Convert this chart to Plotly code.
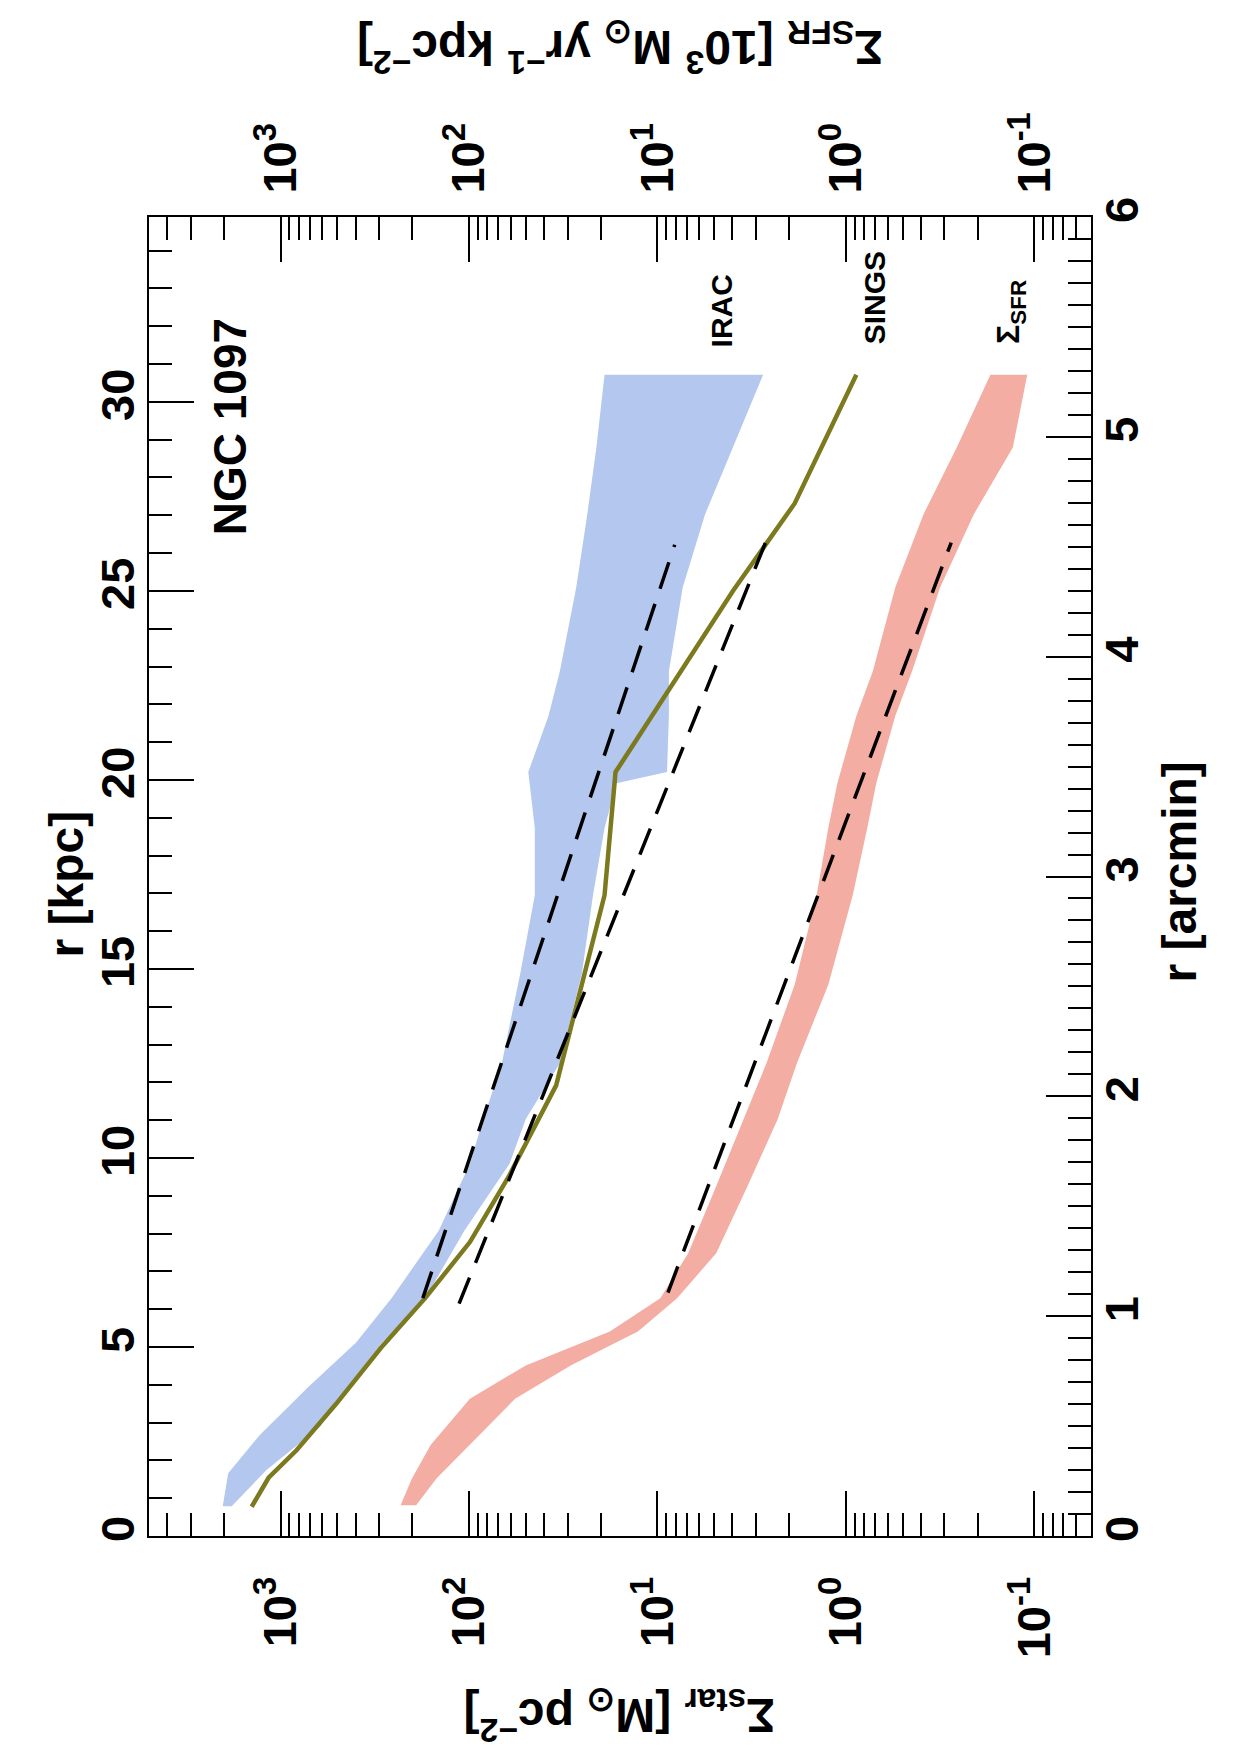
import math
import plotly.graph_objects as go

# ---------------- data (r in arcmin, surface densities) ----------------
KPC_PER_ARCMIN = 5.815

# IRAC stellar surface density band (upper and lower envelopes)
irac_hi_r = [0.135, 0.285, 0.46, 0.675, 0.879, 1.082, 1.388, 1.693, 1.897, 2.151,
             2.559, 2.915, 3.221, 3.475, 3.73, 3.933, 4.315, 4.646, 4.952, 5.282]
irac_hi = [2030, 1900, 1290, 718, 399, 258, 145, 99, 84, 67,
           53.5, 44.8, 44.8, 48.5, 37.9, 33, 27, 23.6, 21.1, 19.1]
irac_lo_r = [0.135, 0.30, 0.496, 0.675, 0.879, 1.082, 1.388, 1.693, 1.897, 2.151,
             2.559, 2.915, 3.221, 3.424, 3.475, 3.73, 3.933, 4.315, 4.646, 4.952, 5.282]
irac_lo = [1820, 1190, 620, 445, 290, 171, 106, 61, 50, 33,
           25.2, 22, 19.1, 16.5, 8.9, 8.7, 8.7, 7.35, 5.6, 3.97, 2.75]

# SINGS profile
sings_r = [0.133, 0.265, 0.39, 0.599, 0.854, 1.082, 1.337, 1.642, 2.05, 2.559,
           2.915, 3.475, 4.30, 4.697, 5.282]
sings = [1426, 1159, 824, 510, 295, 171, 99, 61, 34.5, 24.5,
         19.1, 16.7, 3.97, 1.87, 0.88]

# SFR surface density band
sfr_r = [0.14, 0.262, 0.414, 0.624, 0.776, 0.879, 0.93, 1.082, 1.286, 1.591, 1.897,
         2.151, 2.508, 2.915, 3.221, 3.424, 3.73, 3.933, 4.315, 4.646, 4.952, 5.282]
sfr_hi = [231, 201, 160, 99, 50, 25.2, 17.9, 9.66, 6.87, 4.88, 3.47,
          2.64, 1.87, 1.43, 1.24, 1.11, 0.88, 0.72, 0.547, 0.388, 0.258, 0.171]
sfr_lo = [191, 149, 99, 57, 28.9, 16.7, 12.7, 7.87, 4.88, 3.33, 2.30,
          1.82, 1.24, 0.92, 0.77, 0.69, 0.547, 0.446, 0.316, 0.21, 0.13, 0.109]

# exponential fits (dashed)
irac_fit_r = [1.082, 4.509]
irac_fit = [176, 8.1]
sings_fit_r = [1.057, 4.519]
sings_fit = [113, 2.67]
sfr_fit_r = [1.107, 4.519]
sfr_fit = [8.8, 0.276]

# axes
sig_range = [5000, 0.05]
sig_major = [1000, 100, 10, 1, 0.1]
sig_major_text = ["10<sup>3</sup>", "10<sup>2</sup>", "10<sup>1</sup>", "10<sup>0</sup>", "10<sup>-1</sup>"]
sig_minor = [k * 10 ** e for e in range(-2, 4) for k in range(2, 10)]
arcmin_range = [0, 6]

# ---------------- styling ----------------
FONT = "Liberation Sans, Arial, Helvetica, sans-serif"
BLUE = "rgb(179,199,239)"
SALMON = "rgb(243,173,162)"
OLIVE = "rgb(124,121,30)"
TICKFONT = dict(family=FONT, size=47, color="black", weight="bold")

fig = go.Figure()

fig.add_trace(go.Scatter(
    x=irac_hi + irac_lo[::-1], y=irac_hi_r + irac_lo_r[::-1],
    fill="toself", fillcolor=BLUE, mode="lines", line=dict(width=0, color=BLUE),
    hoverinfo="skip", showlegend=False))
fig.add_trace(go.Scatter(
    x=sfr_hi + sfr_lo[::-1], y=sfr_r + sfr_r[::-1],
    fill="toself", fillcolor=SALMON, mode="lines", line=dict(width=0, color=SALMON),
    hoverinfo="skip", showlegend=False))
fig.add_trace(go.Scatter(
    x=sings, y=sings_r, mode="lines", line=dict(color=OLIVE, width=4.5),
    hoverinfo="skip", showlegend=False))
for fx, fr in [(irac_fit, irac_fit_r), (sings_fit, sings_fit_r), (sfr_fit, sfr_fit_r)]:
    fig.add_trace(go.Scatter(
        x=fx, y=fr, mode="lines", line=dict(color="black", width=3.5, dash="28px,16px"),
        hoverinfo="skip", showlegend=False))

# dummy traces so overlay axes are drawn
for xa, ya in [("x2", "y2"), ("x3", "y"), ("x4", "y")]:
    fig.add_trace(go.Scatter(x=[1], y=[1], xaxis=xa, yaxis=ya, mode="markers",
                             marker=dict(opacity=0), hoverinfo="skip", showlegend=False))

log_range = [math.log10(sig_range[0]), math.log10(sig_range[1])]

major_x = dict(type="log", range=log_range, tickmode="array", tickvals=sig_major,
               ticktext=sig_major_text, ticks="inside", ticklen=45, tickwidth=2,
               tickcolor="black", showline=True, linewidth=2, linecolor="black",
               showgrid=False, zeroline=False, tickangle=-90, tickfont=TICKFONT,
               automargin=False)
minor_x = dict(type="log", range=log_range, tickmode="array", tickvals=sig_minor,
               ticks="inside", ticklen=23, tickwidth=2, tickcolor="black",
               showticklabels=False, showline=False, showgrid=False, zeroline=False,
               automargin=False)

fig.update_layout(
    width=1240, height=1755,
    margin=dict(l=149, r=149, t=217, b=219, autoexpand=False),
    paper_bgcolor="white", plot_bgcolor="white", showlegend=False,
    xaxis=dict(**major_x, side="bottom", anchor="y", ticklabelstandoff=20),
    xaxis2=dict(**major_x, side="top", anchor="y", overlaying="x", ticklabelstandoff=12),
    xaxis3=dict(**minor_x, side="bottom", anchor="y", overlaying="x"),
    xaxis4=dict(**minor_x, side="top", anchor="y", overlaying="x"),
    yaxis=dict(range=arcmin_range, side="right", anchor="x", tickmode="linear",
               tick0=0, dtick=1, ticks="inside", ticklen=45, tickwidth=2,
               tickcolor="black", showline=True, linewidth=2, linecolor="black",
               showgrid=False, zeroline=False, tickangle=-90, tickfont=TICKFONT,
               ticklabelstandoff=-11, automargin=False,
               minor=dict(dtick=0.1, tick0=0, ticks="inside", ticklen=23,
                          tickwidth=2, tickcolor="black", showgrid=False)),
    yaxis2=dict(range=[arcmin_range[0] * KPC_PER_ARCMIN, arcmin_range[1] * KPC_PER_ARCMIN],
                side="left", anchor="x", overlaying="y", tickmode="linear",
                tick0=0, dtick=5, ticks="inside", ticklen=45, tickwidth=2,
                tickcolor="black", showline=True, linewidth=2, linecolor="black",
                showgrid=False, zeroline=False, tickangle=-90, tickfont=TICKFONT,
                ticklabelstandoff=-6, automargin=False,
                minor=dict(dtick=1, tick0=0, ticks="inside", ticklen=23,
                           tickwidth=2, tickcolor="black", showgrid=False)),
)

def ann(text, x, y, size, angle, **kw):
    fig.add_annotation(text=text, x=x, y=y, xref="paper", yref="paper",
                       showarrow=False, textangle=angle, xanchor="center",
                       yanchor="middle",
                       font=dict(family=FONT, size=size, color="black", weight="bold"), **kw)

ann("Σ<sub>SFR</sub> [10<sup>3</sup> M<sub>⊙</sub> yr<sup>−1</sup> kpc<sup>−2</sup>]",
    0.5, 1.128, 48, 180)
ann("Σ<sub>star</sub> [M<sub>⊙</sub> pc<sup>−2</sup>]", 0.5, -0.136, 48, 180)
ann("r [kpc]", -0.088, 0.494, 48, -90)
ann("r [arcmin]", 1.0945, 0.503, 48, -90)
ann("NGC 1097", 0.0855, 0.841, 46, -90)
ann("IRAC", 0.608, 0.929, 30, -90)
ann("SINGS", 0.771, 0.9386, 30, -90)
ann("Σ<sub>SFR</sub>", 0.915, 0.928, 32, -90)

fig.write_html("out.html")
